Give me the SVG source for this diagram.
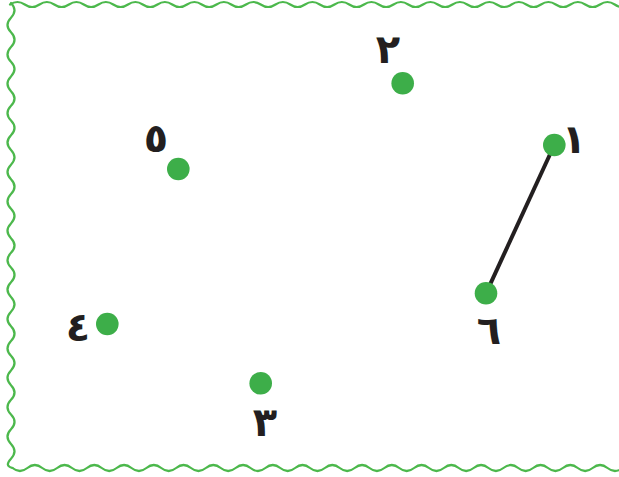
<svg xmlns="http://www.w3.org/2000/svg" width="619" height="477" viewBox="0 0 619 477">
<style>
.frame{fill:none;stroke:#4cb84c;stroke-width:2.2;stroke-linecap:round}
.dot{fill:#3dae49}
.lbl{font-family:"DejaVu Sans",sans-serif;font-weight:bold;font-size:40px;fill:#231f20;text-anchor:middle}
.edge{stroke:#231f20;stroke-width:4;fill:none}
</style>
<rect width="619" height="477" fill="#fff"/>
<g id="frame">
<path class="frame" d="M10,4.5 q7.375,-5 14.75,0 t14.75,0 t14.75,0 t14.75,0 t14.75,0 t14.75,0 t14.75,0 t14.75,0 t14.75,0 t14.75,0 t14.75,0 t14.75,0 t14.75,0 t14.75,0 t14.75,0 t14.75,0 t14.75,0 t14.75,0 t14.75,0 t14.75,0 t14.75,0 t14.75,0 t14.75,0 t14.75,0 t14.75,0 t14.75,0 t14.75,0 t14.75,0 t14.75,0 t14.75,0 t14.75,0 t14.75,0 t14.75,0 t14.75,0 t14.75,0 t14.75,0 t14.75,0 t14.75,0 t14.75,0 t14.75,0 t14.75,0 t14.75,0"/>
<path class="frame" d="M11,2.95 q7,7.35 0,14.7 t0,14.7 t0,14.7 t0,14.7 t0,14.7 t0,14.7 t0,14.7 t0,14.7 t0,14.7 t0,14.7 t0,14.7 t0,14.7 t0,14.7 t0,14.7 t0,14.7 t0,14.7 t0,14.7 t0,14.7 t0,14.7 t0,14.7 t0,14.7 t0,14.7 t0,14.7 t0,14.7 t0,14.7 t0,14.7 t0,14.7 t0,14.7 t0,14.7 t0,14.7 t0,14.7 q-7,7.35 1.5,9.35"/>
<path class="frame" d="M12.5,468 q7.4375,6 14.875,0 t14.875,0 t14.875,0 t14.875,0 t14.875,0 t14.875,0 t14.875,0 t14.875,0 t14.875,0 t14.875,0 t14.875,0 t14.875,0 t14.875,0 t14.875,0 t14.875,0 t14.875,0 t14.875,0 t14.875,0 t14.875,0 t14.875,0 t14.875,0 t14.875,0 t14.875,0 t14.875,0 t14.875,0 t14.875,0 t14.875,0 t14.875,0 t14.875,0 t14.875,0 t14.875,0 t14.875,0 t14.875,0 t14.875,0 t14.875,0 t14.875,0 t14.875,0 t14.875,0 t14.875,0 t14.875,0 t14.875,0 t14.875,0"/>
<path class="frame" d="M624,-9.5 q-7,7.5 0,15 t0,15 t0,15 t0,15 t0,15 t0,15 t0,15 t0,15 t0,15 t0,15 t0,15 t0,15 t0,15 t0,15 t0,15 t0,15 t0,15 t0,15 t0,15 t0,15 t0,15 t0,15 t0,15 t0,15 t0,15 t0,15 t0,15 t0,15 t0,15 t0,15 t0,15 t0,15 t0,15"/>
</g>
<g id="connectors">
<line class="edge" x1="554.3" y1="145" x2="486" y2="293.3"/>
</g>
<g id="node1"><circle class="dot" cx="554.3" cy="145" r="11.3"/><text class="lbl" x="574" y="153">١</text></g>
<g id="node2"><circle class="dot" cx="402.7" cy="83.3" r="11.3"/><text class="lbl" x="388" y="63">٢</text></g>
<g id="node3"><circle class="dot" cx="260.7" cy="383.3" r="11.3"/><text class="lbl" x="265" y="436">٣</text></g>
<g id="node4"><circle class="dot" cx="107.3" cy="324" r="11.3"/><text class="lbl" x="78" y="341">٤</text></g>
<g id="node5"><circle class="dot" cx="178.3" cy="169" r="11.3"/><text class="lbl" x="156" y="152">٥</text></g>
<g id="node6"><circle class="dot" cx="486" cy="293.3" r="11.3"/><text class="lbl" x="489" y="344">٦</text></g>
</svg>
